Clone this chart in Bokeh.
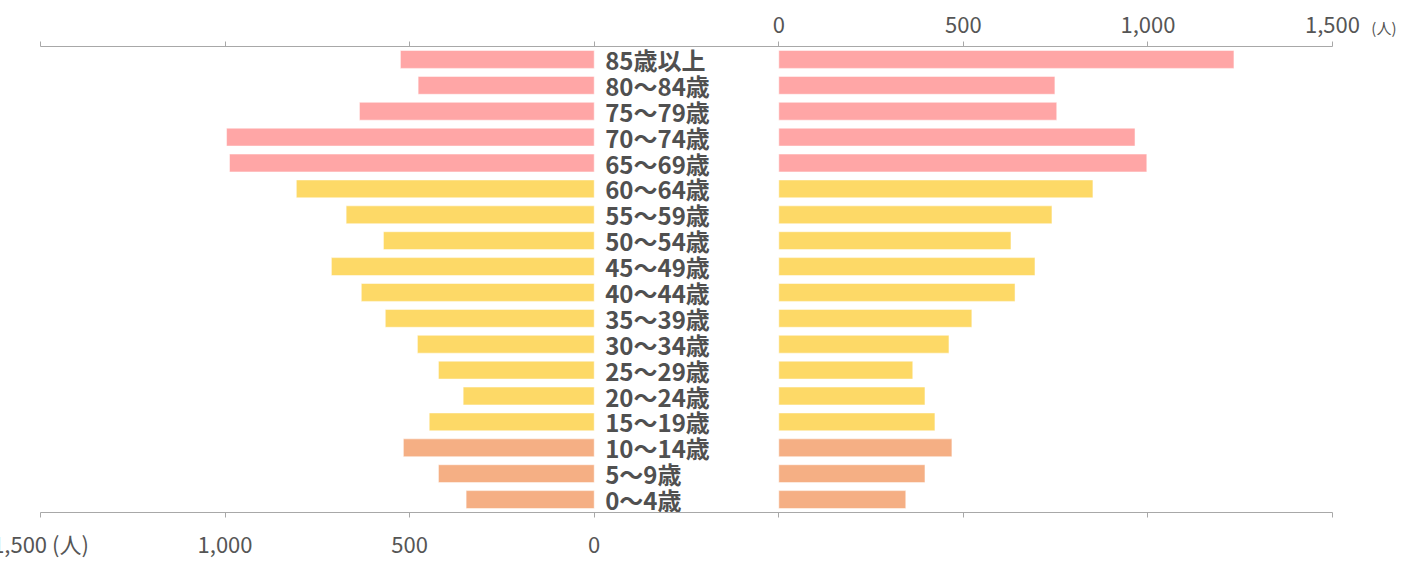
from bokeh.plotting import figure
from bokeh.models import (Range1d, FactorRange, LinearAxis, FixedTicker,
                          CustomJSTickFormatter, ColumnDataSource)
from bokeh.embed import file_html
from bokeh.resources import INLINE
from bokeh.core.properties import value

# ---- data (top to bottom) ----
age_groups = ["85歳以上", "80〜84歳", "75〜79歳", "70〜74歳", "65〜69歳",
              "60〜64歳", "55〜59歳", "50〜54歳", "45〜49歳", "40〜44歳",
              "35〜39歳", "30〜34歳", "25〜29歳", "20〜24歳", "15〜19歳",
              "10〜14歳", "5〜9歳", "0〜4歳"]
male = [525, 477, 636, 996, 988, 807, 672, 571, 712, 631,
        566, 479, 422, 355, 447, 517, 422, 347]
female = [1233, 748, 753, 965, 997, 851, 740, 629, 694, 640,
          523, 461, 363, 396, 423, 469, 396, 344]
elderly = ["85歳以上", "80〜84歳", "75〜79歳", "70〜74歳", "65〜69歳"]
children = ["10〜14歳", "5〜9歳", "0〜4歳"]
tick_values = [0, 500, 1000, 1500]
unit_label = "(人)"

PINK, YELLOW, ORANGE = "#FFA6A6", "#FDD967", "#F5AF84"
colors = [PINK if a in elderly else ORANGE if a in children else YELLOW for a in age_groups]

src = ColumnDataSource(dict(age=age_groups, male=male, female=female, color=colors))
factors = list(reversed(age_groups))

MAX = 1500
GAP = 500  # width of the central label column, in axis units
FONT = "Noto Sans CJK JP"
AXIS_COLOR = "#A8A8A8"
TEXT_COLOR = "#555555"
BAR_H = 0.69

p = figure(width=1417, height=561,
           x_range=Range1d(-(MAX + GAP), MAX),
           y_range=FactorRange(factors=factors, range_padding=0),
           output_backend="svg", toolbar_location=None,
           x_axis_location=None, y_axis_location=None,
           min_border_left=40, min_border_right=85,
           min_border_top=46, min_border_bottom=38)
p.extra_x_ranges = {"left": Range1d(MAX, -(MAX + GAP))}
p.outline_line_color = None
p.xgrid.visible = False
p.ygrid.visible = False

p.hbar(y="age", left=0, right="male", height=BAR_H, fill_color="color",
       line_color="white", line_width=0.5, source=src, x_range_name="left")
p.hbar(y="age", left=0, right="female", height=BAR_H, fill_color="color",
       line_color="white", line_width=0.5, source=src)
p.text(x=0, y="age", text="age", source=src, x_range_name="left", x_offset=11,
       text_font=value(FONT), text_font_size="24px", text_font_style="bold",
       text_color="#505050", text_baseline="middle", text_align="left")

ticks_both = tick_values + [-(GAP + v) for v in tick_values]
fmt_top = CustomJSTickFormatter(
    code="return tick < 0 ? '' : tick.toLocaleString('en-US');")
# bottom axis: the outermost tick carries the unit, as in the reference
fmt_bottom = CustomJSTickFormatter(
    args=dict(unit=unit_label, last=MAX),
    code="if (tick < 0) return ''; const s = tick.toLocaleString('en-US');"
         " return tick == last ? s + ' ' + unit : s;")


def style_axis(ax, fmt):
    ax.ticker = FixedTicker(ticks=ticks_both)
    ax.formatter = fmt
    ax.axis_line_color = AXIS_COLOR
    ax.major_tick_line_color = AXIS_COLOR
    ax.major_tick_out = 5
    ax.major_tick_in = 0
    ax.minor_tick_line_color = None
    ax.major_label_text_font = FONT
    ax.major_label_text_font_size = "22px"
    ax.major_label_text_color = TEXT_COLOR
    ax.major_label_standoff = 9


ax_top = LinearAxis()
style_axis(ax_top, fmt_top)
p.add_layout(ax_top, "above")
ax_bot = LinearAxis(x_range_name="left")
style_axis(ax_bot, fmt_bottom)
p.add_layout(ax_bot, "below")

# unit label, upper right (title placed on the axis' label line)
p.title.text = unit_label
p.title.align = "right"
p.title.offset = -64
p.title.standoff = -48
p.title.text_font = FONT
p.title.text_font_size = "15px"
p.title.text_font_style = "normal"
p.title.text_color = TEXT_COLOR

open("out.html", "w").write(file_html(p, INLINE))
